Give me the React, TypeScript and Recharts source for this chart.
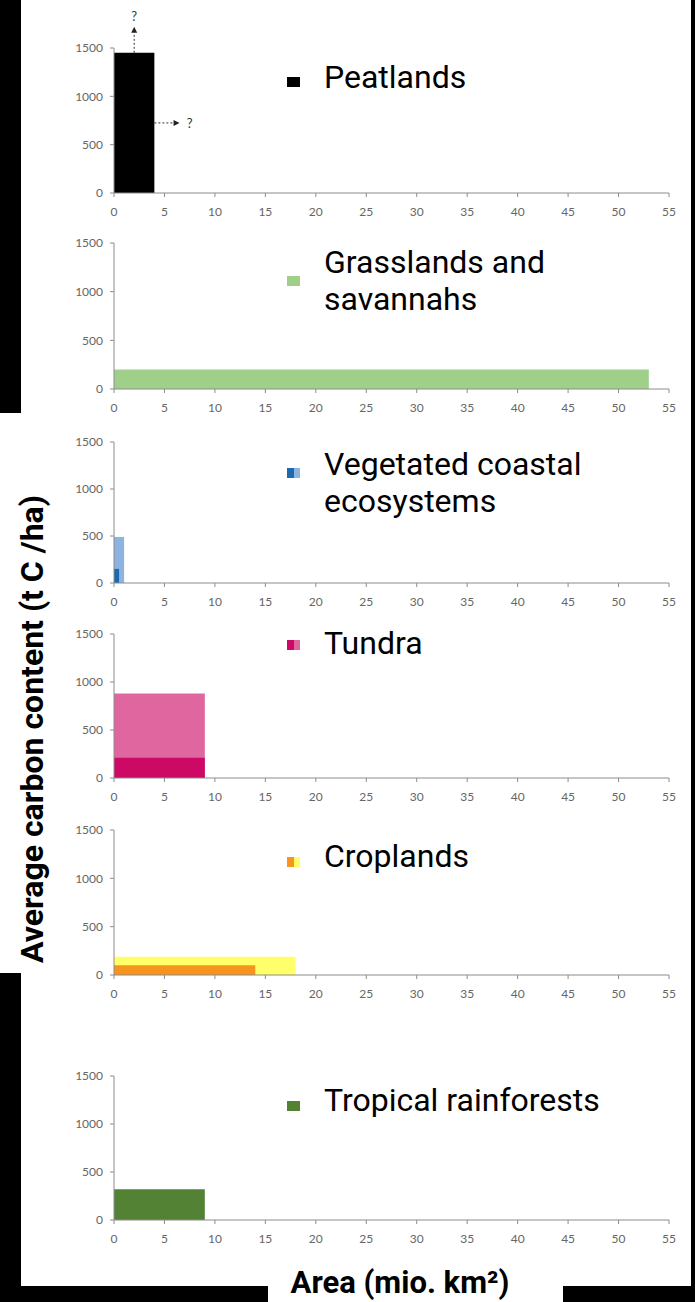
import { ComposedChart, Line, ReferenceArea, ReferenceLine, XAxis, YAxis } from "recharts"

// ecosystems, one small panel each
const ecosystems = [
    "Peatlands",
    "Grasslands and savannahs",
    "Vegetated coastal ecosystems",
    "Tundra",
    "Croplands",
    "Tropical rainforests",
]
const legendLines = [
    ["Peatlands"],
    ["Grasslands and", "savannahs"],
    ["Vegetated coastal", "ecosystems"],
    ["Tundra"],
    ["Croplands"],
    ["Tropical rainforests"],
]

// area (mio. km2) and average carbon content (t C / ha)
const coreArea = [4, 53, 0.5, 9, 14, 9]
const coreCarbon = [1450, 200, 150, 210, 100, 320]
const outerArea = [null, null, 1, 9, 18, null]
const outerCarbon = [null, null, 490, 880, 190, null]

const coreColor = ["#000000", "#9fcf88", "#1c6aae", "#cc0a66", "#f7941d", "#548235"]
const outerColor = [null, null, "#8db3e0", "#e066a0", "#ffff6a", null]

// peatlands: unknown extent, dashed arrows with "?"
const peatArrows = [
    { x1: 2, y1: 1450, x2: 2, y2: 1720 },
    { x1: 4, y1: 725, x2: 6.5, y2: 725 },
]

const xTicks = [0, 5, 10, 15, 20, 25, 30, 35, 40, 45, 50, 55]
const yTicks = [0, 500, 1000, 1500]

// pixel layout of each panel (y of 1500, y of 0, legend)
const panels = [
    { top: 48, bottom: 193, text: [88], sq: 82 },
    { top: 243, bottom: 389, text: [273, 310], sq: 281 },
    { top: 442, bottom: 583, text: [475, 512], sq: 473 },
    { top: 634, bottom: 778, text: [654], sq: 645 },
    { top: 830, bottom: 975, text: [867], sq: 862 },
    { top: 1076, bottom: 1220, text: [1111], sq: 1106 },
]

const axisColor = "#8c8c8c"
const tickStyle = { fill: "#666666", fontSize: 12, fontFamily: "Lato" }

function Arrow(props: any) {
    const { x1, y1, x2, y2 } = props
    const dx = x2 - x1
    const dy = y2 - y1
    const len = Math.hypot(dx, dy) || 1
    const ux = dx / len
    const uy = dy / len
    const bx = x2 - ux * 6
    const by = y2 - uy * 6
    const pts = `${x2},${y2} ${bx - uy * 3},${by + ux * 3} ${bx + uy * 3},${by - ux * 3}`
    return (
        <g>
            <line x1={x1} y1={y1} x2={bx} y2={by} stroke="#333" strokeDasharray="2 2" />
            <polygon points={pts} fill="#222" />
            <text
                x={x2 + ux * 10}
                y={y2 + uy * 11}
                textAnchor="middle"
                dominantBaseline="central"
                fontSize={13}
                fontFamily="Lato"
                fill="#333"
            >
                ?
            </text>
        </g>
    )
}

function Panel({ i }: { i: number }) {
    const p = panels[i]
    const mt = i === 0 ? 44 : 10
    const h = p.bottom - p.top + mt + 30
    const data = [{ x: 0, y: coreCarbon[i] }, { x: coreArea[i], y: coreCarbon[i] }]
    return (
        <div style={{ position: "absolute", left: 0, top: p.top - mt }}>
            <ComposedChart width={695} height={h} data={data} margin={{ top: mt, right: 26, bottom: 0, left: 0 }}>
                <XAxis
                    type="number"
                    dataKey="x"
                    domain={[0, 55]}
                    ticks={xTicks}
                    interval={0}
                    height={30}
                    stroke={axisColor}
                    tick={tickStyle}
                    tickSize={4}
                    tickMargin={10}
                    allowDataOverflow
                />
                <YAxis
                    type="number"
                    domain={[0, 1500]}
                    ticks={yTicks}
                    interval={0}
                    width={114}
                    stroke={axisColor}
                    tick={tickStyle}
                    tickSize={4}
                    tickMargin={7}
                    allowDataOverflow
                />
                {outerArea[i] != null && (
                    <ReferenceArea
                        x1={0}
                        x2={outerArea[i] as number}
                        y1={0}
                        y2={outerCarbon[i] as number}
                        fill={outerColor[i] as string}
                        fillOpacity={1}
                        stroke="none"
                    />
                )}
                <ReferenceArea
                    x1={0}
                    x2={coreArea[i]}
                    y1={0}
                    y2={coreCarbon[i]}
                    fill={coreColor[i]}
                    fillOpacity={1}
                    stroke="none"
                />
                {i === 0 &&
                    peatArrows.map((a, k) => (
                        <ReferenceLine
                            key={k}
                            segment={[{ x: a.x1, y: a.y1 }, { x: a.x2, y: a.y2 }]}
                            ifOverflow="visible"
                            shape={(props: any) => <Arrow {...props} />}
                        />
                    ))}
                <Line dataKey="y" stroke="none" dot={false} activeDot={false} isAnimationActive={false} />
            </ComposedChart>
        </div>
    )
}

export default function App() {
    return (
        <div
            style={{
                position: "absolute",
                left: 0,
                top: 0,
                width: 695,
                height: 1302,
                background: "#fff",
                overflow: "hidden",
            }}
        >
            {ecosystems.map((_, i) => (
                <Panel key={i} i={i} />
            ))}

            <svg width={695} height={1302} style={{ position: "absolute", left: 0, top: 0, pointerEvents: "none" }}>
                {legendLines.map((lines, i) => {
                    const p = panels[i]
                    return (
                        <g key={i}>
                            {outerColor[i] ? (
                                <>
                                    <rect x={287} y={p.sq - 5} width={7} height={10} fill={coreColor[i]} />
                                    <rect x={294} y={p.sq - 5} width={6} height={10} fill={outerColor[i] as string} />
                                </>
                            ) : (
                                <rect x={287} y={p.sq - 5} width={13} height={10} fill={coreColor[i]} />
                            )}
                            {lines.map((t, k) => (
                                <text
                                    key={k}
                                    x={324}
                                    y={p.text[k]}
                                    fontSize={32}
                                    fontFamily="Roboto"
                                    fill="#000"
                                >
                                    {t}
                                </text>
                            ))}
                        </g>
                    )
                })}
                <text
                    transform="translate(43,729) rotate(-90)"
                    textAnchor="middle"
                    fontSize={32}
                    fontWeight={700}
                    fontFamily="Roboto"
                    fill="#000"
                >
                    Average carbon content (t C /ha)
                </text>
                <text x={400} y={1293} textAnchor="middle" fontSize={31} fontWeight={700} fontFamily="Roboto" fill="#000">
                    Area (mio. km²)
                </text>
            </svg>

            {/* black frame pieces from the cropped original */}
            <div style={{ position: "absolute", left: 0, top: 0, width: 21, height: 413, background: "#000" }} />
            <div style={{ position: "absolute", left: 0, top: 973, width: 21, height: 329, background: "#000" }} />
            <div style={{ position: "absolute", left: 0, top: 1286, width: 268, height: 16, background: "#000" }} />
            <div style={{ position: "absolute", left: 563, top: 1286, width: 132, height: 16, background: "#000" }} />
            <div style={{ position: "absolute", left: 691, top: 0, width: 4, height: 1302, background: "#000" }} />
        </div>
    )
}
